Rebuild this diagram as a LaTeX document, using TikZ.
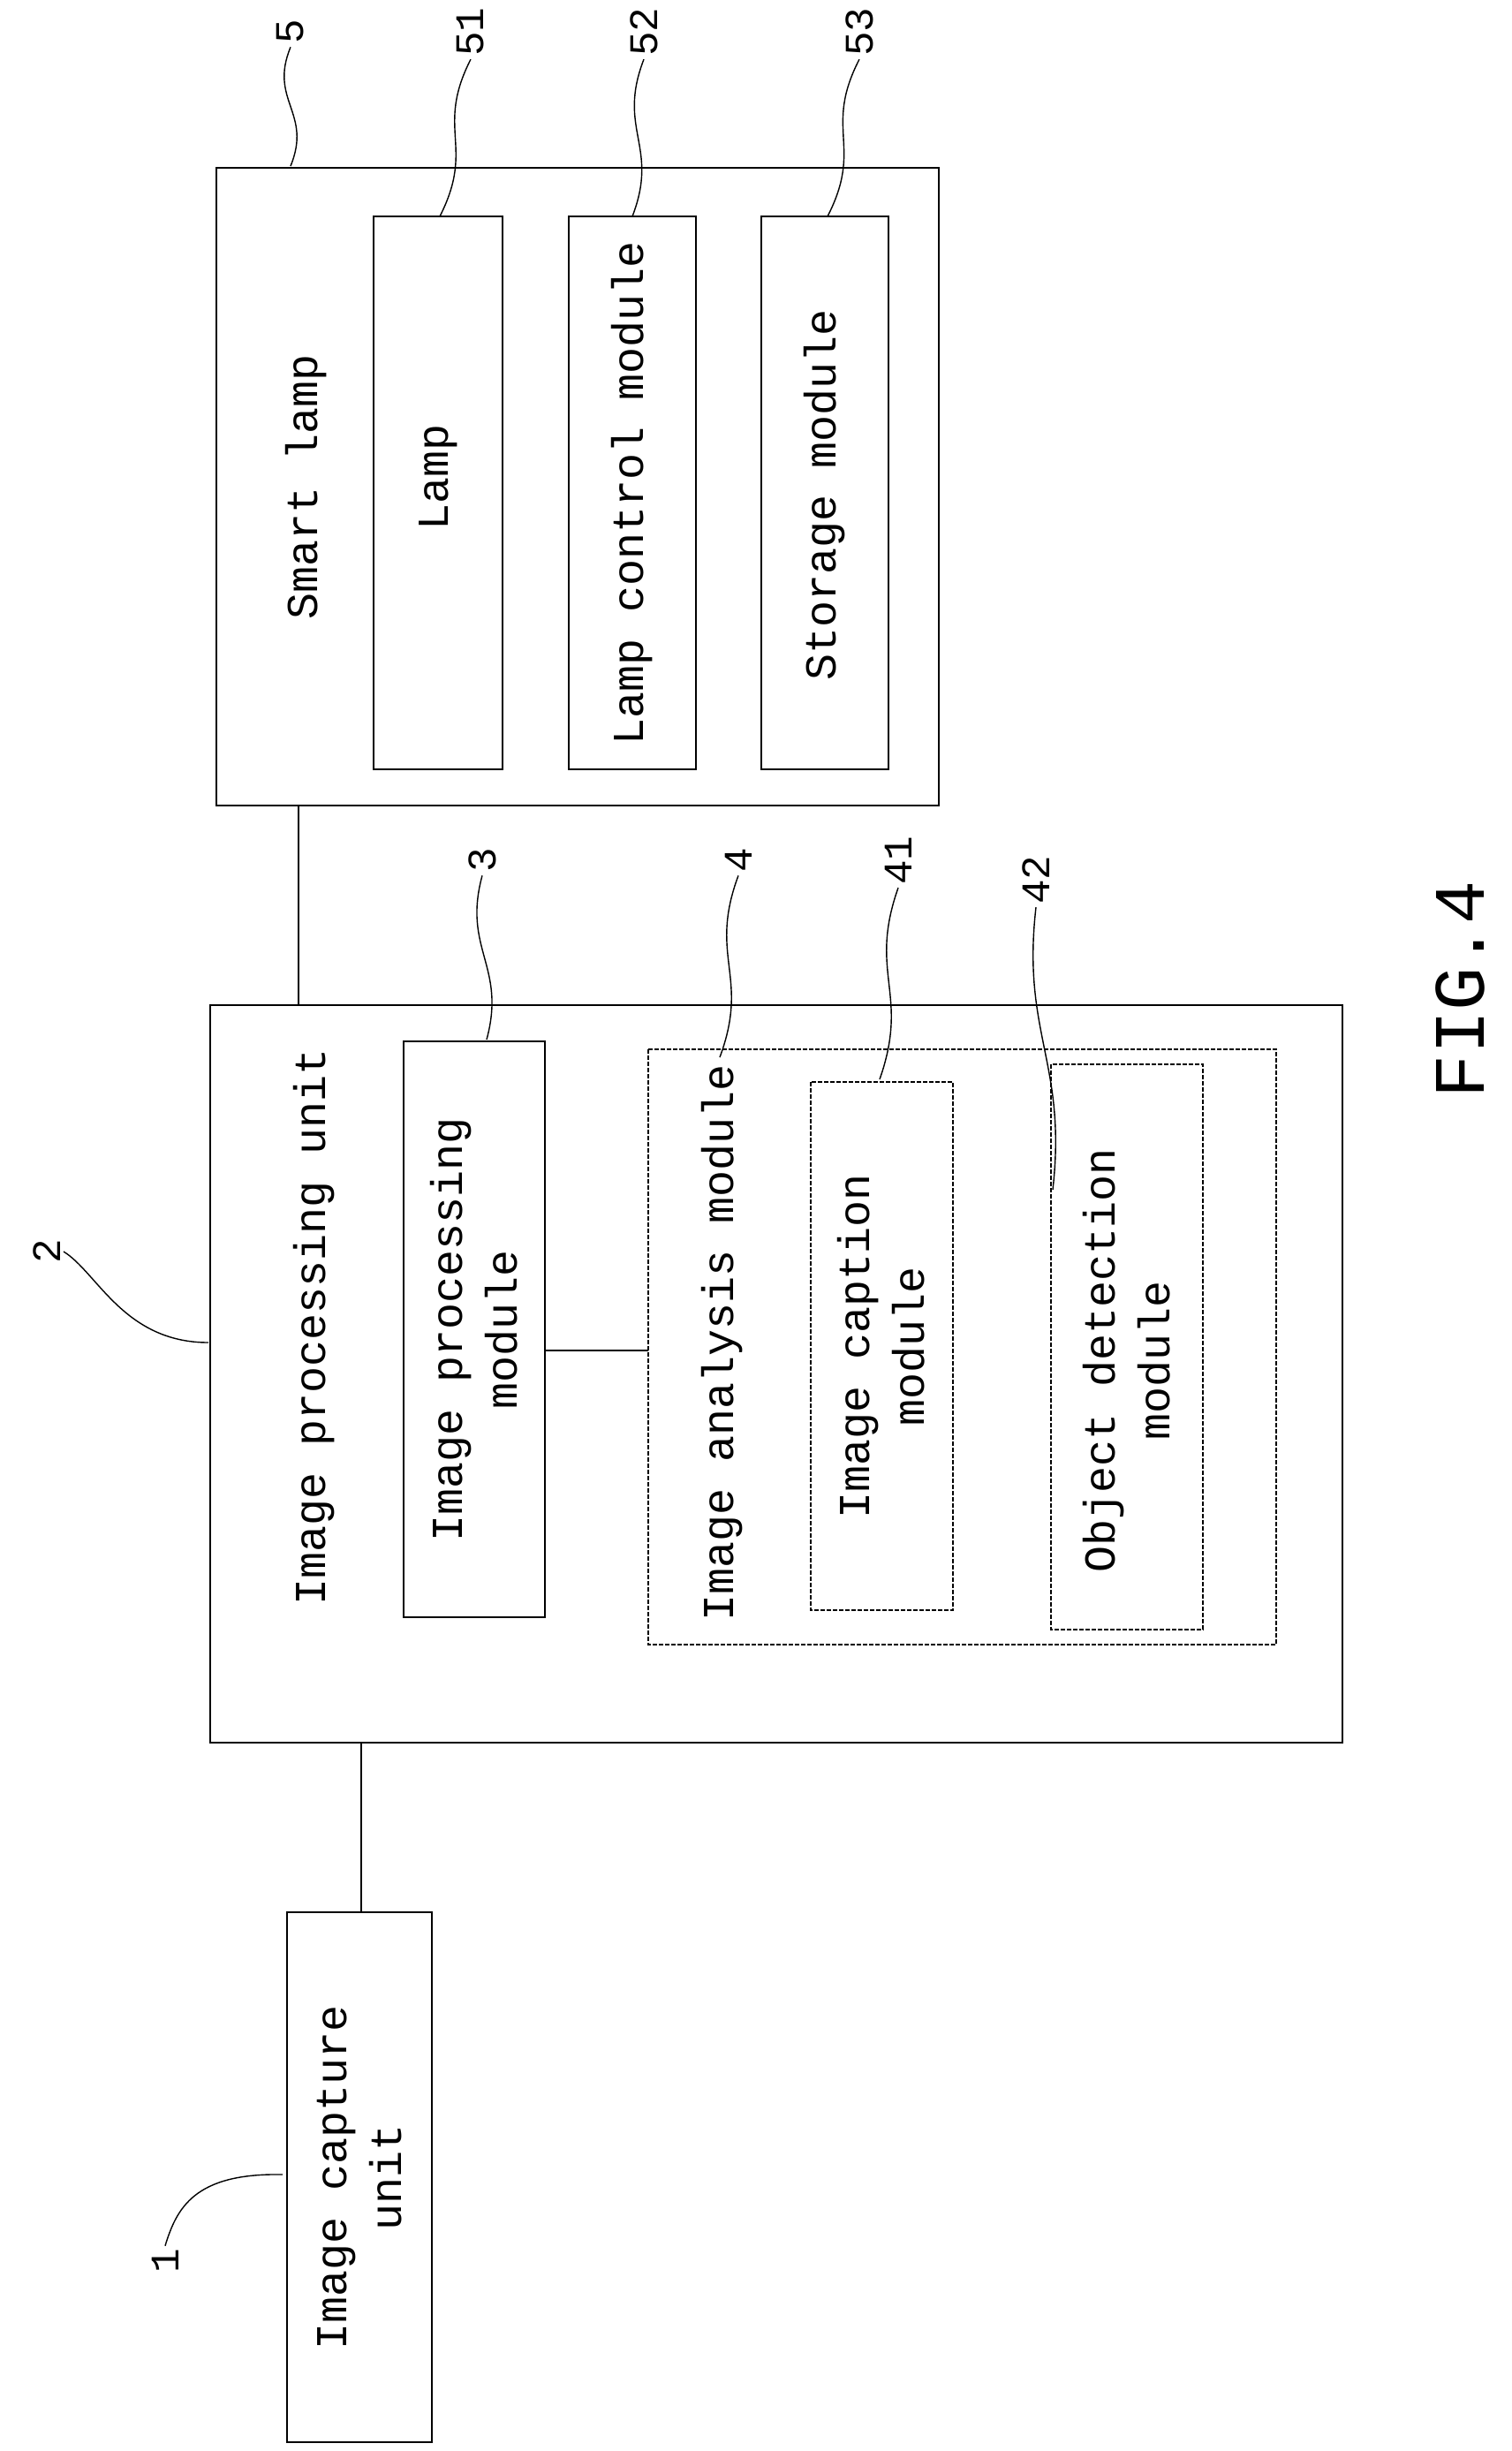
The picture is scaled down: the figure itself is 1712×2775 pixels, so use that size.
\documentclass[tikz,border=0pt]{standalone}
\usepackage{fontspec}
\setmainfont{Liberation Mono}
\usetikzlibrary{calc}
\begin{document}
\begin{tikzpicture}[x=1pt,y=-1pt,
 box/.style={draw,line width=1.6pt},
 dbox/.style={draw,line width=1.4pt,dash pattern=on 5pt off 2pt},
 txt/.style={rotate=90,font=\fontsize{50}{62}\selectfont,align=center},
 num/.style={font=\fontsize{46}{50}\selectfont,rotate=90},
 lead/.style={line width=1.4pt}]
\useasboundingbox (0,0) rectangle (1712,2775);
% boxes
\draw[box] (245,190) rectangle (1063,912);
\draw[box] (423,245) rectangle (569,871);
\draw[box] (644,245) rectangle (788,871);
\draw[box] (862,245) rectangle (1006,871);
\draw[box] (238,1138) rectangle (1520,1973);
\draw[box] (457,1179) rectangle (617,1831);
\draw[dbox] (734,1188) rectangle (1445,1862);
\draw[dbox] (918,1225) rectangle (1079,1823);
\draw[dbox] (1190,1205) rectangle (1362,1845);
\draw[box] (325,2165) rectangle (489,2765);
% texts
\node[txt] (t5) at (347,551) {Smart lamp};
\node[txt] (t51) at (496,540) {Lamp};
\node[txt] (t52) at (716,558) {Lamp control module};
\node[txt] (t53) at (934,560) {Storage module};
\node[txt] (t2) at (356,1502) {Image processing unit};
\node[txt] (t3) at (537,1505) {Image processing\\module};
\node[txt] (t4) at (818,1520) {Image analysis module};
\node[txt] (t41) at (998,1524) {Image caption\\module};
\node[txt] (t42) at (1276,1540) {Object detection\\module};
\node[txt] (t1) at (407,2465) {Image capture\\unit};
\node[rotate=90,font=\fontsize{82}{90}\selectfont] (fig) at (1653,1120) {FIG.4};
% connectors
\coordinate (c5a) at (338,912); \coordinate (c5b) at (338,1138);
\draw[lead] (c5a) -- (c5b);
\coordinate (c3a) at (617,1529); \coordinate (c3b) at (734,1529);
\draw[lead] (c3a) -- (c3b);
\coordinate (c1a) at (409,1973); \coordinate (c1b) at (409,2165);
\draw[lead] (c1a) -- (c1b);
% labels & leaders
\node[num] (n5) at (329,36) {5};
\node[num] (n51) at (533,36) {51};
\node[num] (n52) at (729,36) {52};
\node[num] (n53) at (973,36) {53};
\node[num] (n3) at (546,974) {3};
\node[num] (n4) at (836,974) {4};
\node[num] (n41) at (1017,974) {41};
\node[num] (n42) at (1173,996) {42};
\node[num] (n2) at (53,1417) {2};
\node[num] (n1) at (187,2560) {1};
\coordinate (e5) at (329,188); \coordinate (e51) at (498,245);
\coordinate (e52) at (716,245); \coordinate (e53) at (937,245);
\coordinate (e3) at (551,1177); \coordinate (e4) at (815,1197);
\coordinate (e41) at (996,1222); \coordinate (e42) at (1192,1347);
\coordinate (e2) at (236,1520); \coordinate (e1) at (320,2462);
\foreach \n in {5,51,52,53,3,4,41,42}{
 \draw[lead] (n\n.west) .. controls ($(n\n.west)!0.45!(e\n)+(-25,0)$) and ($(n\n.west)!0.55!(e\n)+(25,0)$) .. (e\n);}
\draw[lead] (n2.south) .. controls (110,1440) and (140,1520) .. (e2);
\draw[lead] (n1.east) .. controls (200,2500) and (220,2460) .. (e1);
\end{tikzpicture}
\end{document}
